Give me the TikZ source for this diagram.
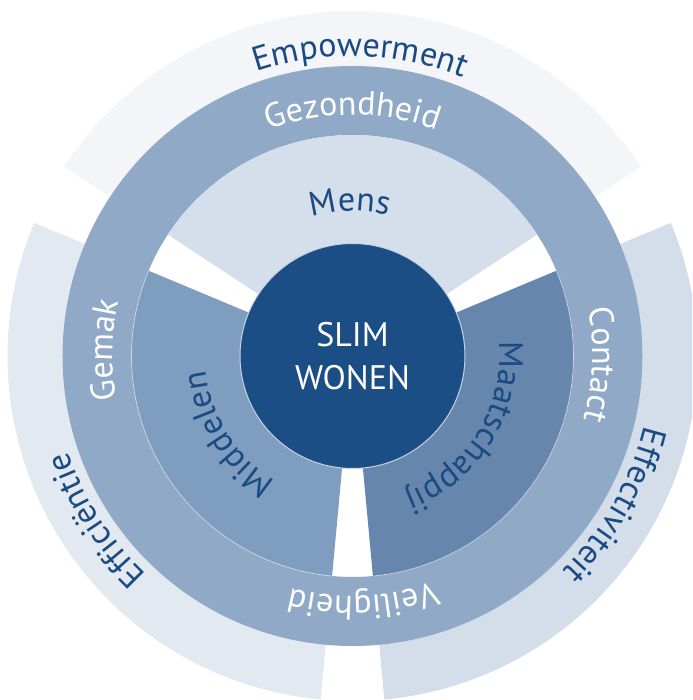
\documentclass[tikz,border=0pt]{standalone}
\usepackage{fontspec}
\setmainfont{PT Sans}
\usetikzlibrary{decorations.text}

\definecolor{coreblue}{HTML}{1C4E86}
\definecolor{labelblue}{HTML}{1A4A82}
\definecolor{ringblue}{HTML}{8FA9C6}
\definecolor{mensfill}{HTML}{D5DFEB}
\definecolor{middelenfill}{HTML}{7F9DBF}
\definecolor{maatschappijfill}{HTML}{6686AE}
\definecolor{empowerfill}{HTML}{F3F5F9}
\definecolor{efficientiefill}{HTML}{E2E9F1}
\definecolor{effectiviteitfill}{HTML}{D4DEEA}

\newcommand\lblfont{\fontsize{34}{40}\selectfont}

% annular wedge: fill, start angle, end angle, outer radius, inner radius
\newcommand\wedgefill[5]{%
  \fill[#1] (#2:#4) arc[start angle=#2, end angle=#3, radius=#4]
    -- (#3:#5) arc[start angle=#3, end angle=#2, radius=#5] -- cycle;}

% clockwise text on a circle: colour, centre angle, baseline radius, text
\newcommand\arctext[4]{%
  \path[decorate, decoration={text along path, text align=center,
      text={|\color{#1}\lblfont|#4}}]
    ({#2+90}:#3) arc[start angle={#2+90}, end angle={#2-90}, radius=#3];}

\begin{document}
\begin{tikzpicture}[x=1pt, y=1pt]
  \useasboundingbox (-352.5,-344) rectangle (339.5,356);
  \clip (-352.5,-344) rectangle (339.5,356);
  \fill[white] (-352.5,-344) rectangle (339.5,356);

  % outer ring of three sectors
  \wedgefill{empowerfill}{33.3}{146.7}{345}{290}
  \wedgefill{efficientiefill}{157.3}{264.7}{345}{290}
  \wedgefill{effectiviteitfill}{275.3}{382.7}{345}{290}

  % middle ring
  \fill[ringblue, even odd rule] (0,0) circle[radius=290] (0,0) circle[radius=221];

  % inner sectors
  \wedgefill{mensfill}{33.3}{146.7}{221}{0}
  \wedgefill{middelenfill}{157.3}{264.7}{221}{0}
  \wedgefill{maatschappijfill}{275.3}{382.7}{221}{0}
  \draw[white, opacity=0.45, line width=0.8pt]
    (157.3:221) arc[start angle=157.3, end angle=264.7, radius=221];
  \draw[white, opacity=0.45, line width=0.8pt]
    (275.3:221) arc[start angle=275.3, end angle=382.7, radius=221];

  % core
  \node[circle, minimum size=225pt, inner sep=0pt, fill=coreblue,
        draw=white!75!coreblue, line width=1pt, text=white, align=center,
        font=\fontsize{34}{43.5}\selectfont] (core) at (0,0) {SLIM\\WONEN};

  % outer labels
  \arctext{labelblue}{88.5}{300}{Empowerment}
  \arctext{labelblue}{212.6}{300}{Efficiëntie}
  \arctext{labelblue}{-29.5}{300}{Effectiviteit}

  % ring labels
  \arctext{white}{90}{241}{Gezondheid}
  \arctext{white}{178.6}{240}{Gemak}
  \arctext{white}{-2}{240}{Contact}
  \arctext{white}{272.5}{240}{Veiligheid}

  % inner labels
  \arctext{labelblue}{91}{145}{Mens}
  \arctext{labelblue}{212}{147}{Middelen}
  \arctext{labelblue}{328}{147}{Maatschappij}
\end{tikzpicture}
\end{document}
